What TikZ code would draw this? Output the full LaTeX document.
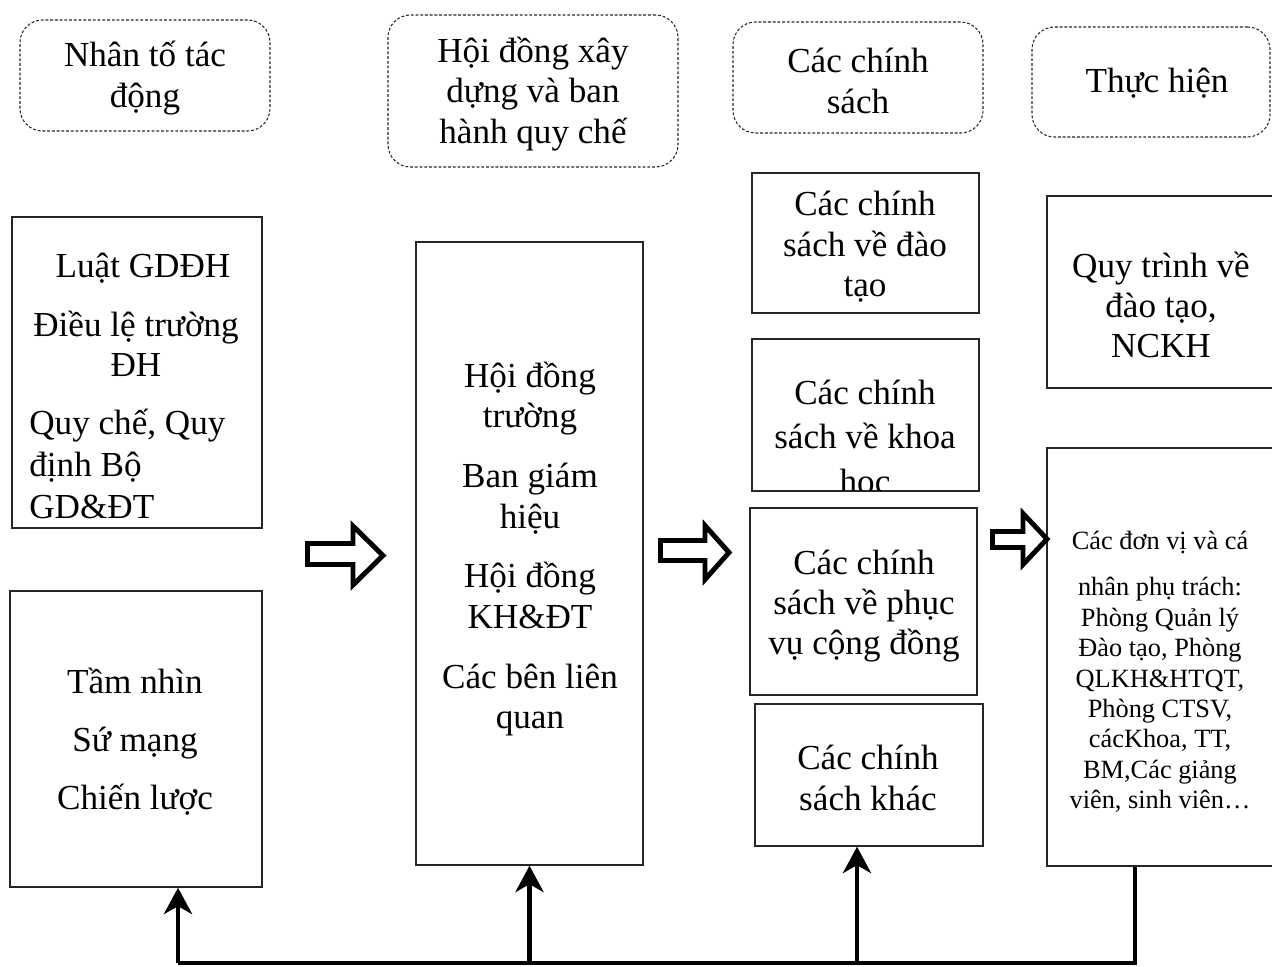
\documentclass[tikz,border=0pt]{standalone}
\usepackage{fontspec}
\setmainfont{Liberation Serif}
\usetikzlibrary{fit,arrows.meta}
\tikzset{
  box/.style={draw=black!85, line width=0.8pt, inner sep=0pt},
  headbox/.style={draw=black!85, line width=0.6pt, dash pattern=on 1.6pt off 1.1pt,
                  rounded corners=0.45cm, inner sep=0pt},
  txt/.style={font=\fontsize{20}{23}\selectfont, align=center, inner sep=0pt},
  smalltxt/.style={font=\fontsize{15}{17.3}\selectfont, align=center, inner sep=0pt},
  blk/.style={draw=black, line width=2.8pt, fill=white, line join=miter},
  fb/.style={line width=2.6pt},
  fbarrow/.style={fb, -{Stealth[length=15pt 0, width=16pt 0, inset=4.5pt 0]}}
}
\begin{document}
\begin{tikzpicture}[x=0.02cm, y=-0.02cm]
\useasboundingbox (0,0) rectangle (1272,967);

% column headings
\node[headbox, fit={(20,20) (270,131)}] (h1) {};
\node[txt] (h1t) at (145,78) {Nhân tố tác\\động};
\node[headbox, fit={(388,15) (678,167)}] (h2) {};
\node[txt] (h2t) at (533,94) {Hội đồng xây\\dựng và ban\\hành quy chế};
\node[headbox, fit={(733,22) (983,133)}] (h3) {};
\node[txt] (h3t) at (858,81) {Các chính\\sách};
\node[headbox, fit={(1032,27) (1270,137)}] (h4) {};
\node[txt] (h4t) at (1157,83) {Thực hiện};

% factors
\node[box, fit={(12,217) (262,528)}] (A) {};
\node[txt] (A1) at (143,268) {Luật GDĐH};
\node[txt] (A2) at (136,344) {Điều lệ trường\\ĐH};
\node[txt, font=\fontsize{20}{24}\selectfont, align=left, anchor=west] (A3) at (29,464) {Quy chế, Quy\\định Bộ\\GD\&ĐT};

\node[box, fit={(10,591) (262,887)}] (B) {};
\node[txt] (Bt) at (135,742) {Tầm nhìn\\[10pt]Sứ mạng\\[10pt]Chiến lược};

% councils
\node[box, fit={(416,242) (643,865)}] (C) {};
\node[txt] (Ct) at (530,549) {Hội đồng\\trường\\[11pt]Ban giám\\hiệu\\[11pt]Hội đồng\\KH\&ĐT\\[11pt]Các bên liên\\quan};

% policies
\node[box, fit={(752,173) (979,313)}] (D) {};
\node[txt] (Dt) at (865,247) {Các chính\\sách về đào\\tạo};
\node[box, fit={(752,339) (979,491)}] (E) {};
\begin{scope}
  \clip (752,339) rectangle (979,490);
  \node[txt, anchor=base] (E1) at (865,404) {Các chính};
  \node[txt, anchor=base] (E2) at (865,448) {sách về khoa};
  \node[txt, anchor=base] (E3) at (865,493) {học};
\end{scope}
\node[box, fit={(750,508) (977,695)}] (F) {};
\node[txt] (Ft) at (864,606) {Các chính\\sách về phục\\vụ cộng đồng};
\node[box, fit={(755,704) (983,846)}] (G) {};
\node[txt] (Gt) at (868,778) {Các chính\\sách khác};

% implementation
\node[box, fit={(1047,196) (1276,388)}] (H) {};
\node[txt] (Ht) at (1161,305) {Quy trình về\\đào tạo,\\NCKH};
\node[box, fit={(1047,448) (1276,866)}] (I) {};
\node[smalltxt] (It) at (1160,672) {Các đơn vị và cá\\[9pt]nhân phụ trách:\\Phòng Quản lý\\Đào tạo, Phòng\\QLKH\&HTQT,\\Phòng CTSV,\\cácKhoa, TT,\\BM,Các giảng\\viên, sinh viên…};

% block arrows between stages
\draw[blk] (307.5,543.5) -- (353,543.5) -- (353,526) -- (383,555.5) -- (353,585) -- (353,564.5) -- (307.5,564.5) -- cycle;
\draw[blk] (660.5,540.5) -- (705,540.5) -- (705,525.5) -- (729,552.5) -- (705,579.5) -- (705,560.5) -- (660.5,560.5) -- cycle;
\draw[blk] (992.5,531.5) -- (1023,531.5) -- (1023,513.5) -- (1047,539) -- (1023,564.5) -- (1023,547.5) -- (992.5,547.5) -- cycle;

% feedback loop
\coordinate (fbL) at (178,963);
\coordinate (fbR) at (1135,963);
\coordinate (fbG) at (857,963);
\draw[fb] (I.south -| fbR) -- (fbR) -- (fbL);
\draw[fbarrow] (fbL) -- (B.south -| fbL);
\draw[fbarrow] (fbL -| C.south) -- (C.south);
\draw[fbarrow] (fbG) -- (G.south -| fbG);
\end{tikzpicture}
\end{document}
